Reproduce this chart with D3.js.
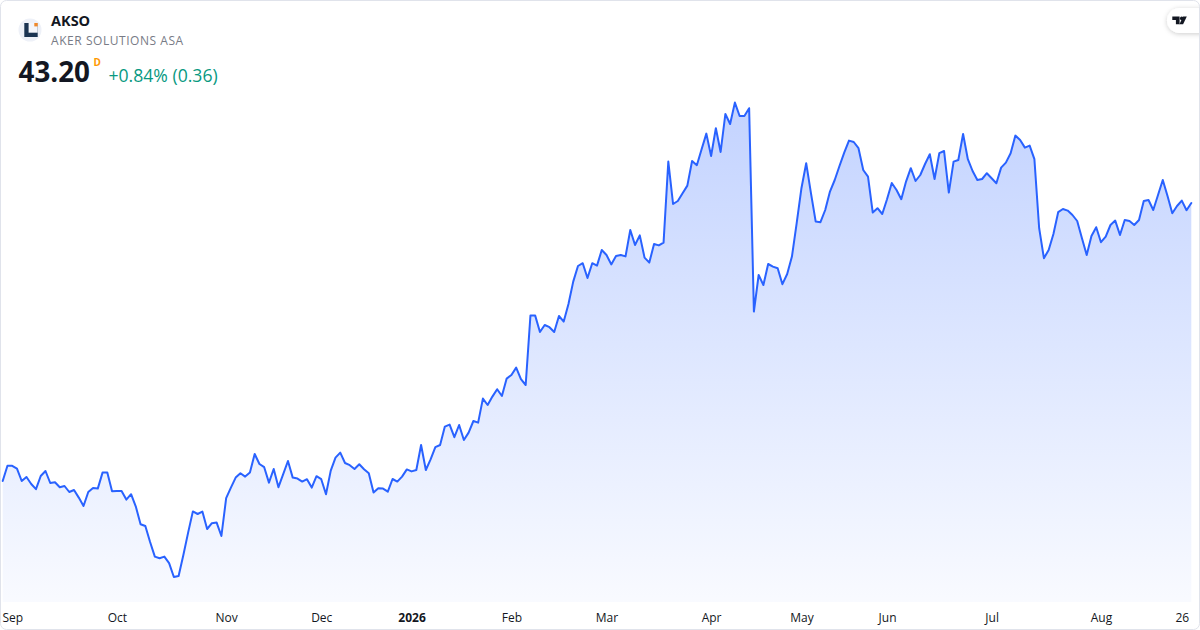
<!DOCTYPE html>
<html>
<head>
<meta charset="utf-8">
<script src="https://cdn.jsdelivr.net/npm/d3@7"></script>
<style>
  html, body { margin: 0; padding: 0; background: #ffffff; }
  svg { display: block; }
</style>
</head>
<body>
<div id="chart"></div>
<script>
// ---- Data (daily closes, AKSO, Aug 28 2025 .. Aug 28 2026) ----
const prices = [
  29.30,30.06,30.06,29.92,29.30,29.50,29.15,28.89,29.55,29.80,
  29.20,29.24,28.99,29.05,28.75,28.85,28.47,28.05,28.75,28.95,
  28.92,29.72,29.72,28.79,28.80,28.80,28.37,28.64,28.02,27.14,
  27.05,26.25,25.52,25.44,25.52,25.19,24.50,24.55,25.60,26.72,
  27.78,27.65,27.77,26.90,27.19,27.22,26.55,28.44,28.97,29.47,
  29.69,29.52,29.72,30.65,30.15,29.99,29.22,29.90,28.99,29.64,
  30.30,29.47,29.42,29.27,29.39,28.97,29.54,29.39,28.64,29.82,
  30.47,30.72,30.20,30.09,29.90,30.14,29.89,29.69,28.72,28.94,
  28.92,28.77,29.40,29.27,29.52,29.88,29.78,29.85,31.10,29.85,
  30.38,30.99,31.10,32.02,32.12,31.49,32.10,31.35,31.72,32.30,
  32.22,33.42,33.10,33.52,33.89,33.55,34.42,34.60,34.97,34.39,
  34.10,37.57,37.57,36.75,37.10,36.99,36.75,37.55,37.27,38.15,
  39.27,40.05,40.19,39.45,40.19,40.07,40.85,40.60,40.13,40.55,
  40.60,40.53,41.85,41.10,41.58,40.47,40.22,41.15,41.08,41.22,
  45.27,43.15,43.30,43.69,44.07,45.30,45.09,45.89,46.67,45.55,
  46.94,45.75,47.65,47.15,48.22,47.55,47.55,47.94,37.77,39.60,
  39.10,40.15,40.02,39.94,39.14,39.65,40.52,42.19,43.94,45.19,
  43.69,42.27,42.24,42.85,43.77,44.35,45.05,45.72,46.32,46.25,
  45.94,44.85,44.52,42.72,42.94,42.65,43.39,44.20,43.85,43.39,
  44.27,44.94,44.30,44.60,45.15,45.64,44.40,45.69,45.80,43.72,
  45.27,45.35,46.65,45.39,44.80,44.35,44.40,44.69,44.44,44.19,
  44.97,45.22,45.69,46.57,46.35,45.97,46.07,45.39,41.94,40.44,
  40.85,41.65,42.74,42.90,42.82,42.60,42.30,41.44,40.60,41.55,
  41.99,41.24,41.52,42.10,42.32,41.60,42.35,42.30,42.10,42.35,
  43.30,43.35,42.85,43.60,44.35,43.55,42.69,43.05,43.32,42.84,
  43.20
];

// x-axis ticks: trading-day index and label
const tickIndex  = [2, 24, 47, 67, 86, 107, 127, 149, 168, 186, 208, 231, 248];
const tickLabels = ["Sep","Oct","Nov","Dec","2026","Feb","Mar","Apr","May","Jun","Jul","Aug","26"];
const boldTicks  = ["2026"];

// header texts
const symbol = "AKSO";
const companyName = "AKER SOLUTIONS ASA";
const lastPrice = "43.20";
const intervalMark = "D";
const changeText = "+0.84% (0.36)";

// ---- Layout ----
const W = 1200, H = 630;
const plotLeft = 2.7, plotRight = 1191.3, plotBottom = 602;

const svg = d3.select("#chart").append("svg")
  .attr("width", W).attr("height", H)
  .attr("viewBox", `0 0 ${W} ${H}`);

const defs = svg.append("defs");

const x = d3.scaleLinear().domain([0, prices.length - 1]).range([plotLeft, plotRight]);
const y = d3.scaleLinear().domain([23.35, 53.35]).range([600, 0]);

// gradient for area
const grad = defs.append("linearGradient")
  .attr("id", "areaGrad")
  .attr("gradientUnits", "userSpaceOnUse")
  .attr("x1", 0).attr("x2", 0)
  .attr("y1", y(d3.max(prices))).attr("y2", plotBottom);
grad.append("stop").attr("offset", 0).attr("stop-color", "#2962ff").attr("stop-opacity", 0.28);
grad.append("stop").attr("offset", 1).attr("stop-color", "#2962ff").attr("stop-opacity", 0.03);

const shadow = defs.append("filter").attr("id", "pillShadow")
  .attr("x", "-50%").attr("y", "-50%").attr("width", "200%").attr("height", "200%");
shadow.append("feDropShadow").attr("dx", 0).attr("dy", 1).attr("stdDeviation", 2.4)
  .attr("flood-color", "#000").attr("flood-opacity", 0.2);

// background
svg.append("rect").attr("x", 0).attr("y", 0).attr("width", W).attr("height", H).attr("fill", "#ffffff");

// area + line
const area = d3.area()
  .x((d, i) => x(i))
  .y0(plotBottom)
  .y1(d => y(d));
const line = d3.line()
  .x((d, i) => x(i))
  .y(d => y(d));

svg.append("path").datum(prices)
  .attr("d", area)
  .attr("fill", "url(#areaGrad)");

svg.append("path").datum(prices)
  .attr("d", line)
  .attr("fill", "none")
  .attr("stroke", "#2962ff")
  .attr("stroke-width", 2)
  .attr("stroke-linejoin", "round")
  .attr("stroke-linecap", "round");

// x axis
const xAxis = d3.axisBottom(x)
  .tickValues(tickIndex)
  .tickFormat((d, i) => tickLabels[i])
  .tickSize(0)
  .tickPadding(0);

const gx = svg.append("g")
  .attr("transform", `translate(0, ${plotBottom})`)
  .call(xAxis);
gx.select(".domain").remove();
gx.selectAll("text")
  .attr("y", 20)
  .attr("dy", 0)
  .attr("fill", "#131722")
  .style("font-family", "'Open Sans', 'Noto Sans', sans-serif")
  .style("font-size", "12px")
  .style("font-weight", d => boldTicks.includes(tickLabels[tickIndex.indexOf(d)]) ? 700 : 400);

// header: logo
svg.append("circle").attr("cx", 30).attr("cy", 30).attr("r", 11.5).attr("fill", "#eef1f8");
svg.append("rect").attr("x", 24.3).attr("y", 23).attr("width", 13.4).attr("height", 14).attr("fill", "#1b3452");
svg.append("rect").attr("x", 28.6).attr("y", 23).attr("width", 9.1).attr("height", 9.7).attr("fill", "#f4f6fb");
svg.append("rect").attr("x", 34.3).attr("y", 23).attr("width", 3.4).attr("height", 3.4).attr("fill", "#f0892a");

const fontUI = "'Open Sans', 'Noto Sans', sans-serif";

svg.append("text").attr("x", 51).attr("y", 26)
  .attr("fill", "#131722").style("font-family", fontUI)
  .style("font-size", "14.5px").style("font-weight", 700)
  .text(symbol);

svg.append("text").attr("x", 51).attr("y", 45)
  .attr("fill", "#787b86").style("font-family", fontUI)
  .style("font-size", "12px").style("letter-spacing", "0.55px")
  .text(companyName);

svg.append("text").attr("x", 18.5).attr("y", 81.5)
  .attr("fill", "#131722").style("font-family", fontUI)
  .style("font-size", "27.8px").style("font-weight", 700)
  .text(lastPrice);

svg.append("text").attr("x", 93.5).attr("y", 65.5)
  .attr("fill", "#ff9800").style("font-family", fontUI)
  .style("font-size", "10px").style("font-weight", 700)
  .text(intervalMark);

svg.append("text").attr("x", 108.5).attr("y", 81.5)
  .attr("fill", "#089981").style("font-family", fontUI)
  .style("font-size", "17.6px")
  .text(changeText);

// TradingView pill logo (top right)
svg.append("rect").attr("x", 1167).attr("y", 8).attr("width", 48).attr("height", 25).attr("rx", 12.5)
  .attr("fill", "#ffffff").attr("filter", "url(#pillShadow)");
const tv = svg.append("g").attr("fill", "#131722");
tv.append("path").attr("d", "M1172.3,16.6 H1179.6 V24.3 H1175.9 V20 H1172.3 Z");
tv.append("circle").attr("cx", 1181.7).attr("cy", 18.4).attr("r", 1.8);
tv.append("path").attr("d", "M1183.1,16.6 H1186.8 L1183.1,24.3 H1179.4 Z");

// outer frame
svg.append("rect").attr("x", 0.5).attr("y", 0.5).attr("width", W - 1).attr("height", H - 1)
  .attr("rx", 6).attr("fill", "none").attr("stroke", "#e0e3eb").attr("stroke-width", 1);
</script>
</body>
</html>
